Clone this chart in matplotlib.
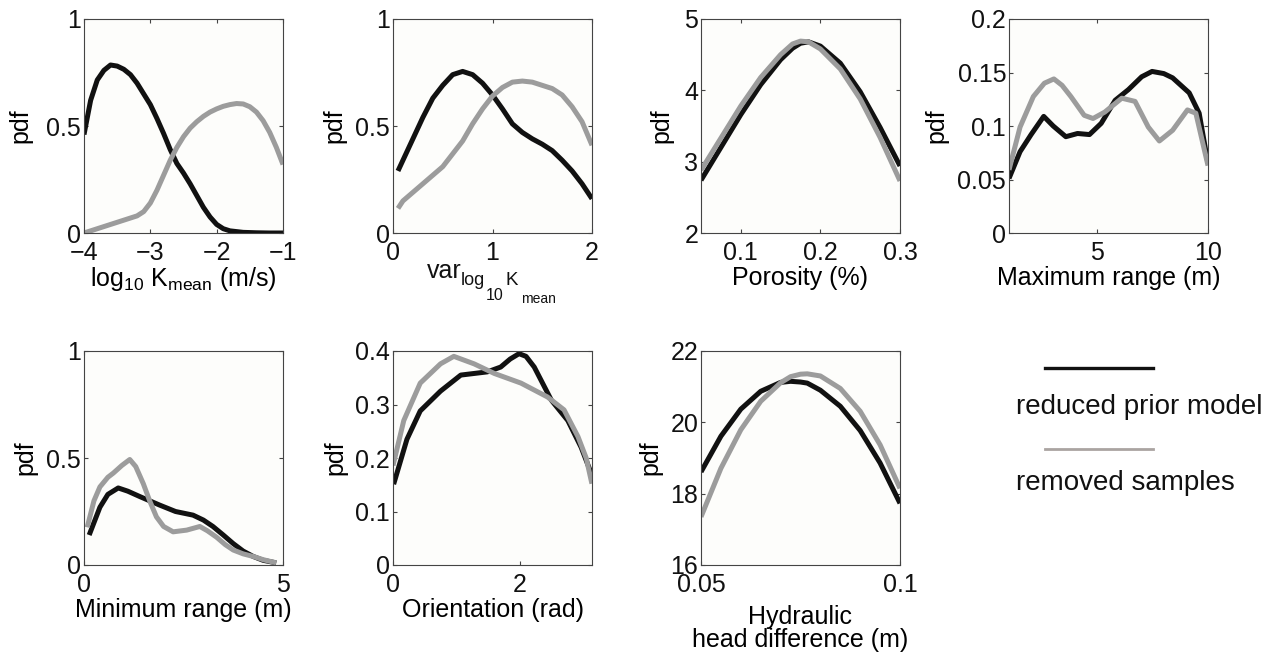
import matplotlib
matplotlib.use("Agg")
import matplotlib.pyplot as plt
from matplotlib.lines import Line2D

plt.rcParams.update({
    "font.family": "Liberation Sans",
    "mathtext.fontset": "custom",
    "mathtext.rm": "Liberation Sans",
    "mathtext.it": "Liberation Sans",
    "font.size": 18,
    "xtick.direction": "in",
    "ytick.direction": "in",
    "xtick.top": True,
    "ytick.right": True,
    "xtick.major.size": 3,
    "ytick.major.size": 3,
    "xtick.major.pad": 5.5,
    "ytick.major.pad": 2,
})

# log10 K mean
k_prior_x = [-4.0, -3.9, -3.8, -3.7, -3.6, -3.5, -3.4, -3.3, -3.2, -3.1, -3.0, -2.9, -2.8,
             -2.7, -2.6, -2.5, -2.4, -2.3, -2.2, -2.1, -2.0, -1.9, -1.8, -1.6, -1.4, -1.2,
             -1.0]
k_prior = [0.46, 0.62, 0.715, 0.76, 0.785, 0.78, 0.765, 0.74, 0.70, 0.65, 0.60, 0.535, 0.465,
           0.39, 0.325, 0.28, 0.23, 0.175, 0.12, 0.075, 0.04, 0.02, 0.01, 0.003, 0.001, 0.0,
           0.0]
k_removed_x = [-4.0, -3.8, -3.6, -3.4, -3.2, -3.1, -3.0, -2.9, -2.8, -2.7, -2.6, -2.5, -2.4,
               -2.3, -2.2, -2.1, -2.0, -1.9, -1.8, -1.7, -1.6, -1.5, -1.4, -1.3, -1.2, -1.1,
               -1.0]
k_removed = [0.0, 0.02, 0.04, 0.06, 0.08, 0.10, 0.14, 0.20, 0.27, 0.34, 0.40, 0.45, 0.49,
             0.52, 0.545, 0.565, 0.58, 0.592, 0.60, 0.605, 0.603, 0.59, 0.565, 0.525, 0.47,
             0.40, 0.32]

# variance of log10 K mean
v_x = [0.05, 0.1, 0.2, 0.3, 0.4, 0.5, 0.6, 0.7, 0.8, 0.9, 1.0, 1.1, 1.2, 1.3, 1.4, 1.5,
       1.6, 1.7, 1.8, 1.9, 2.0]
v_prior = [0.29, 0.34, 0.44, 0.54, 0.63, 0.69, 0.74, 0.755, 0.74, 0.70, 0.645, 0.58, 0.51,
           0.47, 0.44, 0.415, 0.385, 0.34, 0.29, 0.23, 0.16]
v_removed = [0.115, 0.15, 0.19, 0.23, 0.27, 0.31, 0.37, 0.43, 0.51, 0.58, 0.64, 0.68, 0.705,
             0.71, 0.705, 0.69, 0.675, 0.645, 0.59, 0.52, 0.41]

# porosity
p_x = [0.05, 0.075, 0.1, 0.125, 0.15, 0.165, 0.175, 0.185, 0.2, 0.225, 0.25, 0.275, 0.3]
p_prior = [2.74, 3.2, 3.66, 4.08, 4.43, 4.59, 4.66, 4.68, 4.62, 4.38, 3.98, 3.48, 2.94]
p_removed = [2.88, 3.33, 3.78, 4.18, 4.50, 4.65, 4.69, 4.68, 4.58, 4.30, 3.88, 3.34, 2.73]

# maximum range
mx_prior_x = [1.0, 1.5, 2.0, 2.57, 3.0, 3.57, 4.1, 4.64, 5.17, 5.8, 6.4, 7.0, 7.47, 8.0,
              8.4, 9.15, 9.6, 10.0]
mx_prior = [0.051, 0.076, 0.092, 0.109, 0.100, 0.090, 0.093, 0.092, 0.1025, 0.124, 0.134,
            0.146, 0.151, 0.149, 0.145, 0.131, 0.112, 0.065]
mx_removed_x = [1.0, 1.5, 2.1, 2.6, 3.03, 3.4, 3.8, 4.4, 4.8, 5.33, 6.1, 6.7, 7.3, 7.8,
                8.4, 9.07, 9.45, 10.0]
mx_removed = [0.059, 0.099, 0.1275, 0.140, 0.144, 0.138, 0.1275, 0.11, 0.107, 0.113, 0.126,
              0.123, 0.099, 0.086, 0.096, 0.115, 0.112, 0.063]

# minimum range
mn_prior_x = [0.13, 0.4, 0.6, 0.86, 1.1, 1.4, 1.9, 2.3, 2.74, 3.0, 3.24, 3.5, 3.75, 4.0,
              4.25, 4.5, 4.83]
mn_prior = [0.14, 0.27, 0.33, 0.36, 0.345, 0.32, 0.28, 0.25, 0.233, 0.21, 0.18, 0.14,
            0.10, 0.065, 0.04, 0.022, 0.01]
mn_removed_x = [0.08, 0.25, 0.4, 0.6, 0.74, 0.95, 1.15, 1.3, 1.49, 1.65, 1.82, 2.0, 2.24,
                2.58, 2.91, 3.1, 3.33, 3.55, 3.75, 4.0, 4.25, 4.5, 4.83]
mn_removed = [0.176, 0.30, 0.365, 0.41, 0.43, 0.465, 0.493, 0.46, 0.38, 0.30, 0.225, 0.18,
              0.155, 0.163, 0.18, 0.16, 0.13, 0.095, 0.07, 0.052, 0.04, 0.025, 0.01]

# orientation
o_prior_x = [0.01, 0.22, 0.43, 0.75, 1.07, 1.49, 1.7, 1.85, 1.99, 2.1, 2.23, 2.5, 2.76,
             2.97, 3.14]
o_prior = [0.151, 0.235, 0.288, 0.325, 0.355, 0.361, 0.37, 0.385, 0.395, 0.39, 0.37, 0.308,
           0.27, 0.22, 0.168]
o_removed_x = [0.0, 0.17, 0.43, 0.75, 0.96, 1.28, 1.6, 2.02, 2.44, 2.7, 2.92, 3.05, 3.14]
o_removed = [0.186, 0.27, 0.34, 0.376, 0.39, 0.376, 0.358, 0.34, 0.314, 0.29, 0.24, 0.2,
             0.152]

# hydraulic head difference
h_x = [0.05, 0.055, 0.06, 0.065, 0.07, 0.0725, 0.075, 0.0767, 0.08, 0.085, 0.09, 0.095, 0.1]
h_prior = [18.61, 19.61, 20.37, 20.87, 21.12, 21.15, 21.13, 21.1, 20.9, 20.45, 19.77,
           18.86, 17.73]
h_removed = [17.35, 18.71, 19.79, 20.59, 21.11, 21.28, 21.35, 21.36, 21.3, 20.95, 20.31,
             19.37, 18.15]

BLACK = "#111111"
GRAY = "#9c9c9c"
LW = 3.6

panels = [
    dict(xp=k_prior_x, yp=k_prior, xr=k_removed_x, yr=k_removed, xlim=(-4, -1), ylim=(0, 1),
         xticks=[-4, -3, -2, -1], yticks=[0, 0.5, 1],
         xlabel=r"log$_{10}$ K$_{\mathrm{mean}}$ (m/s)", lpad=0.5, ylx=-0.32),
    dict(xp=v_x, yp=v_prior, xr=v_x, yr=v_removed, xlim=(0, 2), ylim=(0, 1),
         xticks=[0, 1, 2], yticks=[0, 0.5, 1], xlabel=None, lpad=0, ylx=-0.296),
    dict(xp=p_x, yp=p_prior, xr=p_x, yr=p_removed, xlim=(0.05, 0.3), ylim=(2, 5),
         xticks=[0.1, 0.2, 0.3], yticks=[2, 3, 4, 5], xlabel="Porosity (%)",
         lpad=1, ylx=-0.20),
    dict(xp=mx_prior_x, yp=mx_prior, xr=mx_removed_x, yr=mx_removed, xlim=(1, 10),
         ylim=(0, 0.2), xticks=[5, 10], yticks=[0, 0.05, 0.1, 0.15, 0.2],
         xlabel="Maximum range (m)", lpad=1, ylx=-0.367),
    dict(xp=mn_prior_x, yp=mn_prior, xr=mn_removed_x, yr=mn_removed, xlim=(0, 5),
         ylim=(0, 1), xticks=[0, 5], yticks=[0, 0.5, 1], xlabel="Minimum range (m)",
         lpad=1, ylx=-0.296),
    dict(xp=o_prior_x, yp=o_prior, xr=o_removed_x, yr=o_removed, xlim=(0, 3.1416),
         ylim=(0, 0.4), xticks=[0, 2], yticks=[0, 0.1, 0.2, 0.3, 0.4],
         xlabel="Orientation (rad)", lpad=1, ylx=-0.29),
    dict(xp=h_x, yp=h_prior, xr=h_x, yr=h_removed, xlim=(0.05, 0.1), ylim=(16, 22),
         xticks=[0.05, 0.1], yticks=[16, 18, 20, 22],
         xlabel="Hydraulic\nhead difference (m)", lpad=6, ylx=-0.256),
]


def fmt(t):
    return f"{t:g}".replace("-", "\u2212")


W, H = 1282, 659
col_left = [84, 393, 701, 1009]
row_top = [19, 351]
ax_w, ax_h = 199, 214

fig = plt.figure(figsize=(W / 100, H / 100), dpi=100)

for i, p in enumerate(panels):
    r, c = divmod(i, 4)
    ax = fig.add_axes([col_left[c] / W, (H - row_top[r] - ax_h) / H, ax_w / W, ax_h / H])
    ax.set_facecolor("#fdfdfb")
    ax.plot(p["xp"], p["yp"], color=BLACK, lw=LW, solid_capstyle="butt",
            solid_joinstyle="round")
    ax.plot(p["xr"], p["yr"], color=GRAY, lw=LW, solid_capstyle="butt",
            solid_joinstyle="round")
    ax.set_xlim(*p["xlim"])
    ax.set_ylim(*p["ylim"])
    ax.set_xticks(p["xticks"])
    ax.set_yticks(p["yticks"])
    ax.set_xticklabels([fmt(t) for t in p["xticks"]])
    ax.set_yticklabels([fmt(t) for t in p["yticks"]])
    if p["xlabel"]:
        ax.set_xlabel(p["xlabel"], labelpad=p["lpad"], linespacing=0.95)
    ax.set_ylabel("pdf", va="center")
    ax.yaxis.set_label_coords(p["ylx"], 0.5)
    for s in ax.spines.values():
        s.set_color("#444444")
        s.set_linewidth(0.8)
    ax.tick_params(colors="#444444", labelcolor="#111111", width=0.8)

# nested subscript label of the variance panel, set piece by piece
var_parts = [("var", 427, 278, 18), ("log", 461, 285, 13), ("10", 486, 300, 11.5),
             ("K", 505, 285, 13.5), ("mean", 521, 303, 10)]
for txt, px, py, fs in var_parts:
    fig.text(px / W, (H - py) / H, txt, fontsize=fs, ha="left", va="baseline",
             color="#111111")

# legend drawn by hand: sample line above its label
fig.add_artist(Line2D([1045 / W, 1153 / W], [(H - 368) / H] * 2, color=BLACK, lw=2.4))
fig.add_artist(Line2D([1045 / W, 1153 / W], [(H - 449) / H] * 2, color="#aaa4a1", lw=2.0))
fig.text(1016 / W, (H - 407) / H, "reduced prior model", fontsize=20, va="center",
         color="#111111")
fig.text(1016 / W, (H - 483) / H, "removed samples", fontsize=20, va="center",
         color="#111111")

fig.savefig("out.png", dpi=100, facecolor="white")
